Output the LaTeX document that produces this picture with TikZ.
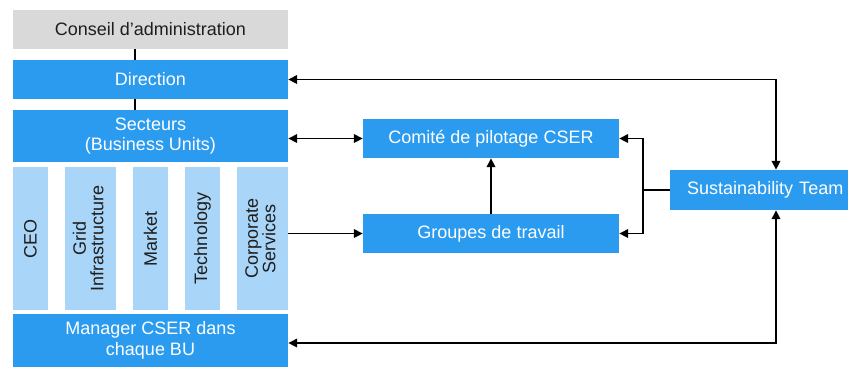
\documentclass[tikz,border=0pt]{standalone}
\usepackage{fontspec}
\usepackage{graphicx}
\setmainfont{Liberation Sans}
\usetikzlibrary{arrows.meta}
\definecolor{bblue}{RGB}{43,155,240}
\definecolor{lblue}{RGB}{168,213,248}
\definecolor{lgrey}{RGB}{217,217,217}
\definecolor{dtext}{RGB}{30,30,30}
\tikzset{
  txt/.style={font=\fontsize{18}{20.5}\selectfont},
  box/.style={fill=bblue, text=white, inner sep=0pt, align=center, txt},
  greybox/.style={fill=lgrey, text=dtext, inner sep=0pt, align=center, txt},
  bar/.style={fill=lblue, text=dtext, inner sep=0pt, minimum height=143pt, txt},
  conn/.style={line width=1.8pt, draw=black},
  tip/.style={-{Triangle[length=9pt,width=8.5pt]}},
  tips/.style={{Triangle[length=9pt,width=8.5pt]}-{Triangle[length=9pt,width=8.5pt]}}
}
\begin{document}
\begin{tikzpicture}[x=1pt,y=-1pt]
\useasboundingbox (0,0) rectangle (848,368);
\node[greybox, minimum width=275pt, minimum height=39pt] (cons) at (150.5,29.5) {Conseil d’administration};
\node[box, minimum width=275pt, minimum height=39pt] (dir) at (150.5,79.5) {Direction};
\node[box, minimum width=275pt, minimum height=52pt] (sec) at (150.5,136) {Secteurs\\(Business Units)};
\node[bar, minimum width=35pt] (ceo) at (30.5,238.5) {\rotatebox{90}{CEO}};
\node[bar, minimum width=51pt] (grid) at (90.5,238.5) {\rotatebox{90}{\begin{tabular}{@{}c@{}}Grid\\[-3pt]Infrastructure\end{tabular}}};
\node[bar, minimum width=35pt] (mkt) at (150.5,238.5) {\rotatebox{90}{Market}};
\node[bar, minimum width=35pt] (tech) at (202.5,238.5) {\rotatebox{90}{Technology}};
\node[bar, minimum width=51pt] (corp) at (262.5,238.5) {\rotatebox{90}{\begin{tabular}{@{}c@{}}Corporate\\[-3pt]Services\end{tabular}}};
\node[box, minimum width=275pt, minimum height=53pt] (mgr) at (150.5,340.5) {Manager CSER dans\\chaque BU};
\node[box, minimum width=256pt, minimum height=39pt] (com) at (491,138.5) {Comité de pilotage CSER};
\node[box, minimum width=256pt, minimum height=39pt] (grp) at (491,233.5) {Groupes de travail};
\node[box, anchor=west, minimum height=40pt, text width=178pt, align=left] (team) at (670,190) {\hspace*{17pt}Sustainability Team};
\coordinate (lx) at (135,0);
\coordinate (tx) at (776,0);
\coordinate (jx) at (643,190);
\draw[conn] (cons.south -| lx) -- (dir.north -| lx);
\draw[conn] (dir.south -| lx) -- (sec.north -| lx);
\draw[conn, tips] (dir.east) -| (team.north -| tx);
\draw[conn, tips] (mgr.east |- 0,343) -| (team.south -| tx);
\draw[conn, tips] (sec.east |- com.west) -- (com.west);
\draw[conn, tip] (corp.east |- grp.west) -- (grp.west);
\draw[conn, tip] (grp.north) -- (com.south);
\draw[conn] (team.west) -- (jx);
\draw[conn, tip] (jx) |- (com.east);
\draw[conn, tip] (jx) |- (grp.east);
\end{tikzpicture}
\end{document}
